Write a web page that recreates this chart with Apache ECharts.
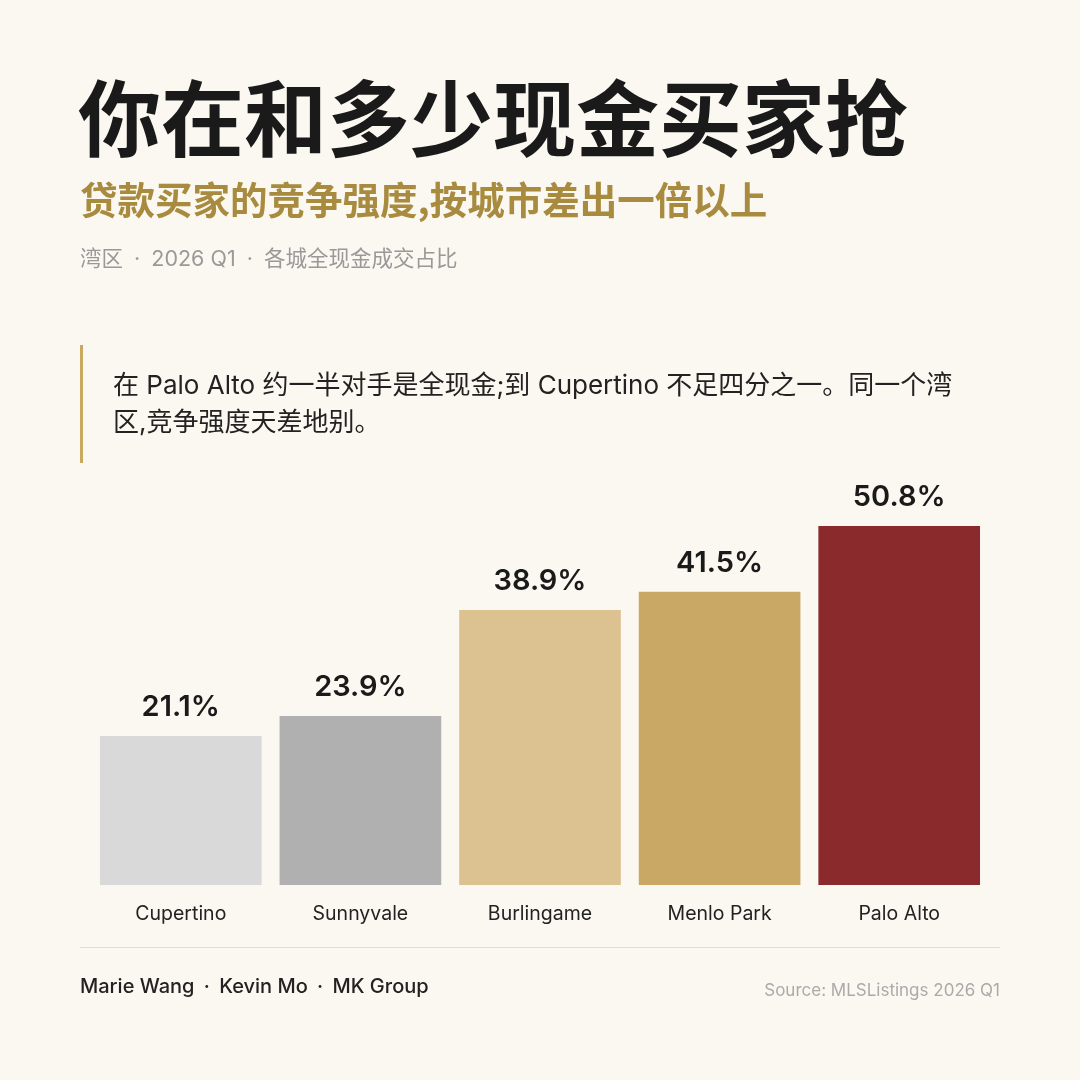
<!DOCTYPE html>
<html><head><meta charset="utf-8">
<script src="https://cdn.jsdelivr.net/npm/echarts@6/dist/echarts.min.js"></script>
<style>html,body{margin:0;padding:0;background:#FBF8F1;}#c{width:1080px;height:1080px;}</style>
</head><body><div id="c"></div>
<script>
const categories = ['Cupertino', 'Sunnyvale', 'Burlingame', 'Menlo Park', 'Palo Alto'];
const cashShare = [21.1, 23.9, 38.9, 41.5, 50.8];
const barColors = ['#D9D9D9', '#B0B0B0', '#DCC291', '#C9A764', '#8B2A2D'];
const titleText = '你在和多少现金买家抢';
const subtitleText = '贷款买家的竞争强度,按城市差出一倍以上';
const notePieces = ['湾区', '2026 Q1', '各城全现金成交占比'];
const quoteText = '在 Palo Alto 约一半对手是全现金;到 Cupertino 不足四分之一。同一个湾\n区,竞争强度天差地别。';
const creditPieces = ['Marie Wang', 'Kevin Mo', 'MK Group'];
const sourceText = 'Source: MLSListings 2026 Q1';

const FONT = 'Inter, "Noto Sans CJK SC", sans-serif';
const joinDots = pieces => pieces.map(p => '{a|' + p + '}').join('{d| · }');
const chart = echarts.init(document.getElementById('c'));
chart.setOption({
  backgroundColor: '#FBF8F1',
  animation: false,
  grid: { left: 91, right: 91, top: 461, bottom: 195, containLabel: false },
  xAxis: {
    type: 'category', data: categories,
    axisLine: { show: false }, axisTick: { show: false },
    axisLabel: { color: '#222', fontSize: 19.5, fontFamily: FONT, margin: 19 }
  },
  yAxis: { type: 'value', min: 0, max: 60, show: false, splitLine: { show: false } },
  series: [{
    type: 'bar', barWidth: '90%',
    data: cashShare.map((v, i) => ({ value: v, itemStyle: { color: barColors[i] } })),
    label: {
      show: true, position: 'top', distance: 14,
      formatter: p => p.value.toFixed(1) + '%',
      color: '#1a1a1a', fontSize: 29, fontWeight: 600, fontFamily: FONT
    }
  }],
  graphic: [
    { type: 'text', left: 78, top: 77, style: { text: titleText, fill: '#1a1a1a', font: 'bold 83px "Noto Sans CJK SC", sans-serif' } },
    { type: 'text', left: 80, top: 181, style: { text: subtitleText, fill: '#A88B3E', font: 'bold 37.5px "Noto Sans CJK SC", sans-serif' } },
    { type: 'text', left: 80, top: 249, style: {
      text: joinDots(notePieces),
      rich: {
        a: { fill: '#999999', fontSize: 21.5, fontFamily: FONT },
        d: { fill: '#999999', fontSize: 21.5, fontFamily: FONT, padding: [0, 5] }
      } } },
    { type: 'rect', shape: { x: 80, y: 345, width: 3, height: 118 }, style: { fill: '#C9A961' } },
    { type: 'text', left: 113, top: 368, style: { text: quoteText, fill: '#222', font: '26px ' + FONT, lineHeight: 37 } },
    { type: 'line', shape: { x1: 80, y1: 947.5, x2: 1000, y2: 947.5 }, style: { stroke: '#DDDDDD', lineWidth: 1 } },
    { type: 'text', left: 80, top: 977, style: {
      text: joinDots(creditPieces),
      rich: {
        a: { fill: '#222', fontSize: 20, fontWeight: 500, fontFamily: FONT },
        d: { fill: '#222', fontSize: 20, fontWeight: 500, fontFamily: FONT, padding: [0, 4] }
      } } },
    { type: 'text', right: 80, top: 982, style: { text: sourceText, fill: '#AAAAAA', font: '17px ' + FONT } }
  ]
});
</script></body></html>
